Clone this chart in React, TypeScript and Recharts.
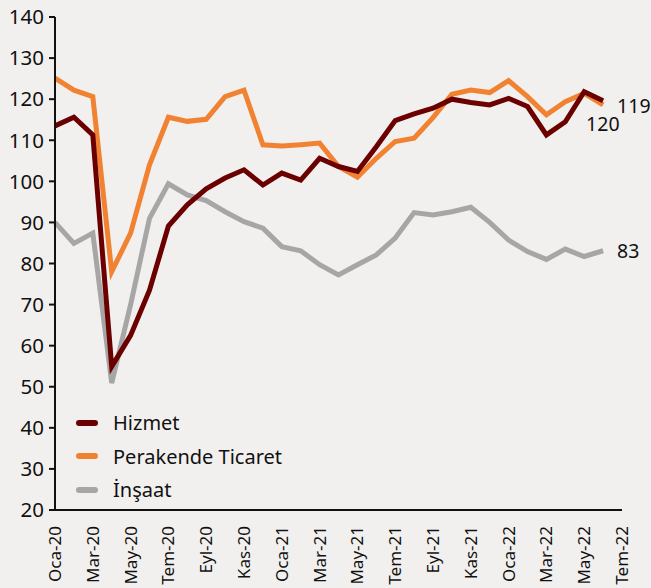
import React from 'react';
import { LineChart, Line, XAxis, YAxis } from 'recharts';

const months = [
  'Oca-20', 'Şub-20', 'Mar-20', 'Nis-20', 'May-20', 'Haz-20', 'Tem-20', 'Ağu-20', 'Eyl-20', 'Eki-20', 'Kas-20', 'Ara-20',
  'Oca-21', 'Şub-21', 'Mar-21', 'Nis-21', 'May-21', 'Haz-21', 'Tem-21', 'Ağu-21', 'Eyl-21', 'Eki-21', 'Kas-21', 'Ara-21',
  'Oca-22', 'Şub-22', 'Mar-22', 'Nis-22', 'May-22', 'Haz-22', 'Tem-22',
];

const hizmet = [
  113.5, 115.6, 111.3, 54.9, 62.5, 73.5, 89.1, 94.3, 98.2, 100.8, 102.8, 99.1,
  102, 100.3, 105.6, 103.6, 102.4, 108.4, 114.8, 116.4, 117.8, 120, 119.2, 118.6,
  120.2, 118.2, 111.3, 114.5, 121.8, 119.6, null,
];

const perakende = [
  125.1, 122.2, 120.6, 78, 87.4, 104, 115.6, 114.6, 115.1, 120.6, 122.2, 108.9,
  108.6, 108.9, 109.3, 103.6, 101, 105.6, 109.7, 110.5, 115.5, 121.2, 122.2, 121.6,
  124.5, 120.6, 116.2, 119.4, 121.4, 118.6, null,
];

const insaat = [
  90, 84.9, 87.4, 50.9, 70, 91, 99.4, 96.7, 95.3, 92.6, 90.2, 88.6,
  84.1, 83.1, 79.7, 77.2, 79.7, 82.1, 86.2, 92.4, 91.8, 92.6, 93.7, 90,
  85.7, 82.9, 81, 83.5, 81.7, 83.1, null,
];

const yTicks = [20, 30, 40, 50, 60, 70, 80, 90, 100, 110, 120, 130, 140];

const endLabels = { hizmet: '119', perakende: '120', insaat: '83' };

const data = months.map((m, i) => ({
  month: m,
  hizmet: hizmet[i],
  perakende: perakende[i],
  insaat: insaat[i],
}));

const LAST = 29;
const FONT = '"Noto Sans", "Open Sans", sans-serif';

const series = [
  { key: 'hizmet', name: 'Hizmet', color: '#6B0000' },
  { key: 'perakende', name: 'Perakende Ticaret', color: '#F08232' },
  { key: 'insaat', name: 'İnşaat', color: '#A6A6A6' },
];

const XTick = (props: any) => {
  const { x, y, payload } = props;
  return (
    <text
      x={0}
      y={0}
      transform={`translate(${x + 6},${y + 8}) rotate(-90)`}
      textAnchor="end"
      fontSize={17}
      fontFamily={FONT}
      fill="#111"
    >
      {payload.value}
    </text>
  );
};

const makeLabel = (text: string, dx: number, dy: number) => (props: any) => {
  const { x, y, index } = props;
  if (index !== LAST) return null;
  return (
    <text x={x + dx} y={y + dy} dy="0.35em" fontSize={19.5} fontFamily={FONT} fill="#111">
      {text}
    </text>
  );
};

export default function App() {
  return (
    <div style={{ position: 'absolute', top: 0, left: 0, width: 651, height: 588, background: '#F2F0EE' }}>
      <LineChart width={651} height={588} data={data} margin={{ top: 17, right: 29, left: 0, bottom: 0 }}>
        <XAxis
          dataKey="month"
          interval={1}
          tick={<XTick />}
          tickLine={false}
          height={78}
          stroke="#111"
          strokeWidth={2}
        />
        <YAxis
          domain={[20, 140]}
          ticks={yTicks}
          width={55}
          tickSize={6}
          tickMargin={5}
          stroke="#111"
          strokeWidth={2}
          tick={{ fontSize: 20.5, fontFamily: FONT, fill: '#111' }}
        />
        <Line
          dataKey="insaat"
          name="İnşaat"
          stroke="#A6A6A6"
          strokeWidth={5}
          dot={false}
          isAnimationActive={false}
          label={makeLabel(endLabels.insaat, 14, 0)}
        />
        <Line
          dataKey="perakende"
          name="Perakende Ticaret"
          stroke="#F08232"
          strokeWidth={5}
          dot={false}
          isAnimationActive={false}
          label={makeLabel(endLabels.perakende, -17, 19)}
        />
        <Line
          dataKey="hizmet"
          name="Hizmet"
          stroke="#6B0000"
          strokeWidth={5}
          dot={false}
          isAnimationActive={false}
          label={makeLabel(endLabels.hizmet, 14, 5)}
        />
      </LineChart>
      <div style={{ position: 'absolute', top: 406, left: 76, fontFamily: FONT, fontSize: 20, color: '#111' }}>
        {series.map((s) => (
          <div key={s.key} style={{ display: 'flex', alignItems: 'center', height: 33.5 }}>
            <div style={{ width: 22, height: 6, borderRadius: 3, background: s.color, marginRight: 15 }} />
            <span>{s.name}</span>
          </div>
        ))}
      </div>
    </div>
  );
}
